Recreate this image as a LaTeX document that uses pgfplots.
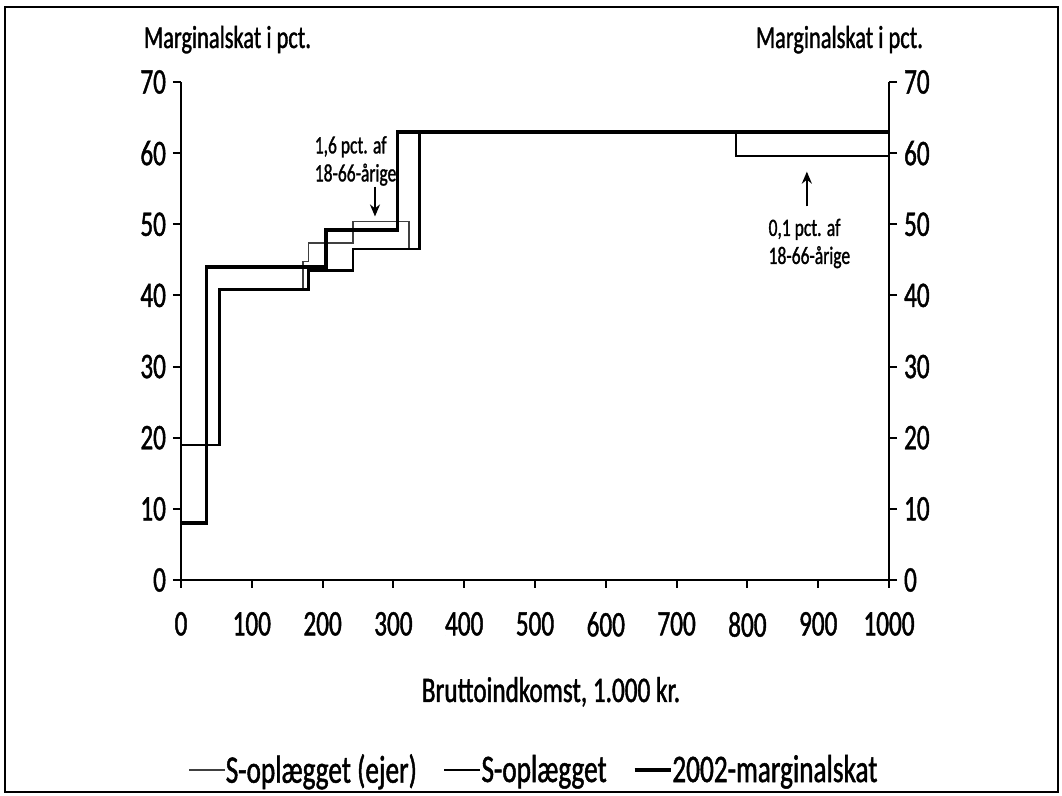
\documentclass[border=0pt]{standalone}
\usepackage{pgfplots}
\pgfplotsset{compat=1.18}
\usepackage{fontspec}
\setmainfont{Carlito}[FakeStretch=0.7, FakeBold=1.2]
\usetikzlibrary{arrows.meta}

\begin{document}
\begin{tikzpicture}
\useasboundingbox (-90.5pt,-108pt) rectangle (440.5pt,290pt);
\draw[line width=0.75pt] (-88pt,-106pt) rectangle (438.5pt,286.5pt);
\begin{axis}[
  at={(0,0)}, anchor=south west,
  scale only axis, width=354pt, height=249pt,
  xmin=0, xmax=1000, ymin=0, ymax=70,
  axis x line*=bottom, axis y line*=left,
  tick align=outside, major tick length=4pt,
  xtick={0,100,...,1000}, ytick={0,10,...,70},
  axis line style={line width=1pt},
  tick style={line width=1pt, black},
  ticklabel style={font=\fontsize{18}{21}\selectfont},
  xticklabel style={yshift=-8.5pt},
  /pgf/number format/assume math mode=true,
  /pgf/number format/1000 sep={},
  xlabel={Bruttoindkomst, 1.000 kr.},
  xlabel style={font=\fontsize{18}{21}\selectfont, at={(axis description cs:0.5226,0)}, anchor=base, yshift=-61pt},
  legend columns=3,
  legend style={draw=none, fill=none, at={(0.497,-0.3815)}, anchor=center,
    font=\fontsize{19.5}{22}\selectfont,
    /tikz/every odd column/.append style={column sep=0pt},
    /tikz/every even column/.append style={column sep=13pt},
    /tikz/every node/.append style={inner xsep=0pt}},
  legend image code/.code={\draw[#1] (0pt,0pt) -- (18pt,0pt);},
  clip=false,
]
\addplot[const plot, line width=0.75pt, black!75] coordinates {
  (0,19) (54,40.8) (172,44.8) (180,47.4) (243,50.4) (322,46.5) (337,63) (784,59.6) (1000,59.6)};
\addlegendentry{S-oplægget (ejer)}
\addplot[const plot, line width=1.3pt, black] coordinates {
  (0,19) (54,40.8) (180,43.5) (243,46.5) (337,63) (784,59.6) (1000,59.6)};
\addlegendentry{S-oplægget}
\addplot[const plot, line width=1.8pt, black] coordinates {
  (0,8) (36,44) (205,49.2) (306,63) (1000,63)};
\addlegendentry{2002-marginalskat}

\node[anchor=west, align=left, font=\fontsize{12.5}{14}\selectfont] at (axis cs:179,58.9) {1,6 pct. af\\18-66-årige};
\draw[line width=1pt, -{Stealth[length=6pt,width=5pt]}] (axis cs:274,55.3) -- (axis cs:274,51.1);
\node[anchor=west, align=left, font=\fontsize{12.5}{14}\selectfont] at (axis cs:820,47.3) {0,1 pct. af\\18-66-årige};
\draw[line width=1pt, -{Stealth[length=6pt,width=5pt]}] (axis cs:884,52.5) -- (axis cs:884,57.4);
\end{axis}
\begin{axis}[
  at={(0,0)}, anchor=south west,
  scale only axis, width=354pt, height=249pt,
  xmin=0, xmax=1000, ymin=0, ymax=70,
  axis x line=none, axis y line*=right,
  tick align=outside, major tick length=4pt,
  ytick={0,10,...,70},
  axis line style={line width=1pt},
  tick style={line width=1pt, black},
  ticklabel style={font=\fontsize{18}{21}\selectfont},
  /pgf/number format/assume math mode=true,
]
\end{axis}
\node[anchor=base west, font=\fontsize{16}{19}\selectfont] at (-22pt,266pt) {Marginalskat i pct.};
\node[anchor=base east, font=\fontsize{16}{19}\selectfont] at (374.5pt,266pt) {Marginalskat i pct.};
\end{tikzpicture}
\end{document}
